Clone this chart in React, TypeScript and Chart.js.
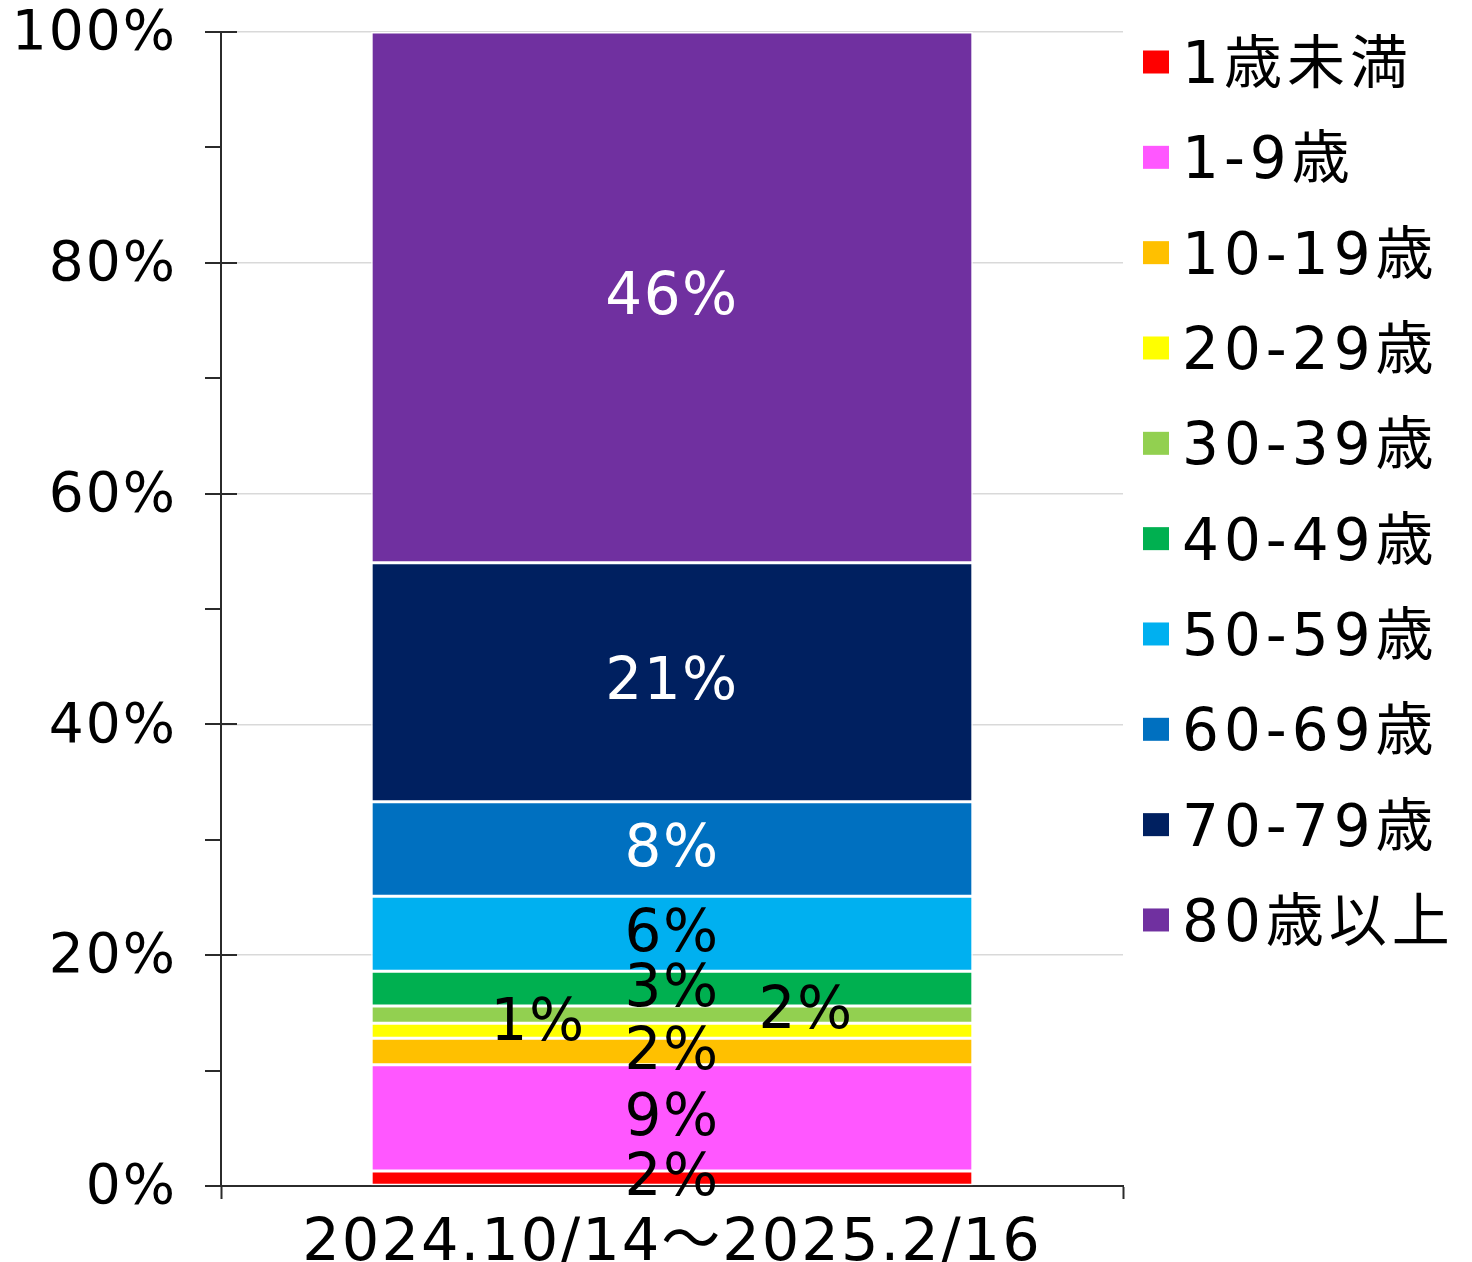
import React, { useEffect, useRef } from "react";
import { Chart, registerables } from "chart.js";

Chart.register(...registerables);

// ---- data ----
const categories = ["2024.10/14～2025.2/16"];
const seriesNames = [
  "1歳未満",
  "1-9歳",
  "10-19歳",
  "20-29歳",
  "30-39歳",
  "40-49歳",
  "50-59歳",
  "60-69歳",
  "70-79歳",
  "80歳以上",
];
const seriesValues = [1.3, 9.2, 2.3, 1.3, 1.5, 3.0, 6.5, 8.2, 20.7, 46.0];
const valueLabels = ["2%", "9%", "2%", "1%", "2%", "3%", "6%", "8%", "21%", "46%"];
const seriesColors = [
  "#FF0000",
  "#FF57FF",
  "#FFC000",
  "#FFFF00",
  "#92D050",
  "#00B050",
  "#00B0F0",
  "#0070C0",
  "#002060",
  "#7030A0",
];
const labelColors = [
  "#000000",
  "#000000",
  "#000000",
  "#000000",
  "#000000",
  "#000000",
  "#000000",
  "#FFFFFF",
  "#FFFFFF",
  "#FFFFFF",
];
const yTickValues = [0, 20, 40, 60, 80, 100];

// ---- styles ----
const FONT = '"DejaVu Sans", "Noto Sans CJK JP", sans-serif';
const AXIS_COLOR = "#2b2b2b";
const GRID_COLOR = "#d9d9d9";
const labelOffsets: Record<number, [number, number]> = {
  3: [-134, -8],
  4: [134, -4],
};

const spacingPlugin = {
  id: "spacing",
  beforeDraw(chart: any) {
    chart.ctx.letterSpacing = "2px";
  },
};

const valueLabelPlugin = {
  id: "valueLabels",
  afterDatasetsDraw(chart: any) {
    const ctx = chart.ctx;
    ctx.save();
    ctx.letterSpacing = "1.5px";
    ctx.font = `58px ${FONT}`;
    ctx.textAlign = "center";
    ctx.textBaseline = "middle";
    chart.data.datasets.forEach((ds: any, i: number) => {
      const meta = chart.getDatasetMeta(i);
      meta.data.forEach((el: any) => {
        const off = labelOffsets[i] || [0, 0];
        const x = el.x + off[0];
        const y = (el.y + el.base) / 2 + 2 + off[1];
        ctx.fillStyle = labelColors[i];
        ctx.fillText(valueLabels[i], x, y);
      });
    });
    ctx.restore();
  },
};

const extrasPlugin = {
  id: "extras",
  afterDraw(chart: any) {
    const ctx = chart.ctx;
    const yScale = chart.scales.y;
    const area = chart.chartArea;
    ctx.save();
    // y tick marks: outer for all, inner half for major ticks
    ctx.strokeStyle = AXIS_COLOR;
    ctx.lineWidth = 2;
    yScale.ticks.forEach((t: any) => {
      const y = Math.round(yScale.getPixelForValue(t.value));
      const major = yTickValues.includes(t.value);
      ctx.beginPath();
      ctx.moveTo(area.left - 16, y);
      ctx.lineTo(major ? area.left + 16 : area.left, y);
      ctx.stroke();
    });
    // legend
    const startY = 62;
    const step = 95.33;
    ctx.font = `58px ${FONT}`;
    ctx.letterSpacing = "5px";
    ctx.textAlign = "left";
    ctx.textBaseline = "middle";
    chart.data.datasets.forEach((ds: any, i: number) => {
      const cy = startY + i * step;
      ctx.fillStyle = ds.backgroundColor;
      ctx.fillRect(1143, cy - 11.5, 26, 23);
      ctx.fillStyle = "#000000";
      ctx.fillText(ds.label, 1182, cy + 6);
    });
    ctx.restore();
  },
};

export default function App() {
  const canvasRef = useRef<HTMLCanvasElement | null>(null);

  useEffect(() => {
    const canvas = canvasRef.current;
    if (!canvas) return;
    const chart = new Chart(canvas, {
      type: "bar",
      data: {
        labels: categories,
        datasets: seriesNames.map((name, i) => ({
          label: name,
          data: [seriesValues[i]],
          backgroundColor: seriesColors[i],
          borderColor: "#FFFFFF",
          borderWidth: 1.5,
          borderSkipped: false,
          barPercentage: 0.667,
          categoryPercentage: 1,
        })),
      },
      options: {
        responsive: false,
        animation: false,
        devicePixelRatio: 1,
        layout: { padding: { top: 32, right: 349, left: 0, bottom: 0 } },
        plugins: {
          legend: { display: false },
          tooltip: { enabled: false },
        },
        scales: {
          x: {
            stacked: true,
            grid: {
              drawOnChartArea: false,
              drawTicks: true,
              tickLength: 13,
              tickColor: AXIS_COLOR,
              tickWidth: 2,
              offset: true,
            },
            border: { color: AXIS_COLOR, width: 2 },
            ticks: {
              color: "#000000",
              font: { family: FONT, size: 59, lineHeight: 1 },
              padding: 16,
              maxRotation: 0,
            },
            afterFit(scale: any) {
              scale.height = 76;
            },
          },
          y: {
            stacked: true,
            min: 0,
            max: 100,
            grid: {
              color: (c: any) =>
                c.tick && c.tick.value % 20 === 0 ? GRID_COLOR : "rgba(0,0,0,0)",
              lineWidth: 1.5,
              tickColor: "rgba(0,0,0,0)",
              tickWidth: 2,
              tickLength: 44,
            },
            border: { color: AXIS_COLOR, width: 2 },
            ticks: {
              stepSize: 10,
              autoSkip: false,
              color: "#000000",
              padding: 0,
              labelOffset: 3,
              font: { family: FONT, size: 55, lineHeight: 0.1 },
              callback: (v: any) =>
                yTickValues.includes(Number(v)) ? `${v}%` : "",
            },
            afterFit(scale: any) {
              scale.width = 221;
            },
          },
        },
      },
      plugins: [spacingPlugin, valueLabelPlugin, extrasPlugin],
    });
    return () => chart.destroy();
  }, []);

  return (
    <div
      style={{
        position: "fixed",
        left: 0,
        top: 0,
        width: 1472,
        height: 1262,
        background: "#FFFFFF",
      }}
    >
      <canvas ref={canvasRef} width={1472} height={1262} />
    </div>
  );
}
